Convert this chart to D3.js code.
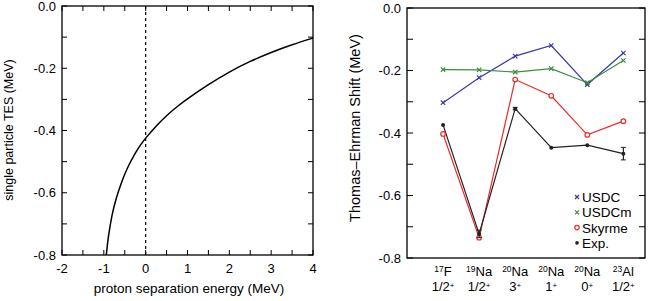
<!DOCTYPE html>
<html lang="en">
<head>
    <meta charset="UTF-8" />
    <title>Thomas-Ehrman shift</title>
    <script src="https://d3js.org/d3.v7.min.js"></script>
    <style>
        body { margin: 0; background: #fff; }
        svg { font-family: "Liberation Sans", Arial, sans-serif; }
    </style>
</head>
<body>
<div id="chart"></div>
<script>
    // ---- data: left panel (single particle TES curve) ----
    var sepEnergy = [-0.94, -0.9, -0.8, -0.7, -0.6, -0.5, -0.4, -0.3, -0.2, -0.1, 0, 0.25, 0.5, 0.75, 1, 1.5, 2, 2.5, 3, 3.5, 4];
    var tes = [-0.8, -0.745, -0.665, -0.615, -0.575, -0.54, -0.51, -0.485, -0.462, -0.442, -0.424, -0.385, -0.352, -0.323, -0.298, -0.252, -0.211, -0.177, -0.149, -0.124, -0.103];

    // ---- data: right panel ----
    var massNumbers = ["17", "19", "20", "20", "20", "23"];
    var elements = ["F", "Na", "Na", "Na", "Na", "Al"];
    var spins = ["1/2", "1/2", "3", "1", "0", "1/2"];
    var usdc = [-0.303, -0.223, -0.154, -0.120, -0.245, -0.144];
    var usdcm = [-0.197, -0.198, -0.205, -0.194, -0.239, -0.168];
    var skyrme = [-0.403, -0.735, -0.229, -0.281, -0.406, -0.362];
    var expVal = [-0.374, -0.723, -0.322, -0.447, -0.439, -0.466];
    var expErr = [0, 0.012, 0.004, 0, 0, 0.02];
    var legendNames = ["USDC", "USDCm", "Skyrme", "Exp."];

    var w = 664, h = 301;
    var svg = d3.select("#chart").append("svg")
        .attr("width", w).attr("height", h);

    function frame(x0, x1, y0, y1) {
        svg.append("rect")
            .attr("x", x0).attr("y", y0)
            .attr("width", x1 - x0).attr("height", y1 - y0)
            .attr("fill", "none").attr("stroke", "#000").attr("stroke-width", 1.3);
    }

    // inward ticks on both sides of a y scale, labels on the left
    function yTicks(y, xl, xr, len) {
        d3.range(-0.8, 0.001, 0.1).forEach(function(v) {
            svg.append("line").attr("x1", xl).attr("x2", xl + len)
                .attr("y1", y(v)).attr("y2", y(v)).attr("stroke", "#000");
            svg.append("line").attr("x1", xr).attr("x2", xr - len)
                .attr("y1", y(v)).attr("y2", y(v)).attr("stroke", "#000");
        });
        [0, -0.2, -0.4, -0.6, -0.8].forEach(function(v) {
            svg.append("text").attr("x", xl - 6).attr("y", y(v) + 4.5)
                .attr("text-anchor", "end").style("font-size", "13px")
                .text(v === 0 ? "0.0" : v.toFixed(1));
        });
    }

    // ================= left panel =================
    var x1 = d3.scaleLinear().domain([-2, 4]).range([62, 313]);
    var y1 = d3.scaleLinear().domain([-0.8, 0]).range([255, 6]);

    yTicks(y1, 62, 313, 5);
    d3.range(-2, 4.01, 0.5).forEach(function(v) {
        svg.append("line").attr("x1", x1(v)).attr("x2", x1(v))
            .attr("y1", 255).attr("y2", 250).attr("stroke", "#000");
        svg.append("line").attr("x1", x1(v)).attr("x2", x1(v))
            .attr("y1", 6).attr("y2", 11).attr("stroke", "#000");
    });
    d3.range(-2, 4.01, 1).forEach(function(v) {
        svg.append("text").attr("x", x1(v)).attr("y", 273)
            .attr("text-anchor", "middle").style("font-size", "13px").text(v);
    });

    // dashed line at zero separation energy
    svg.append("line").attr("x1", x1(0)).attr("x2", x1(0))
        .attr("y1", y1(0)).attr("y2", y1(-0.8))
        .attr("stroke", "#000").attr("stroke-width", 1.2)
        .attr("stroke-dasharray", "3,3");

    var curve = d3.line().curve(d3.curveBasis)
        .x(function(d, i) { return x1(sepEnergy[i]); })
        .y(function(d) { return y1(d); });
    svg.append("path").datum(tes).attr("d", curve)
        .attr("fill", "none").attr("stroke", "#000").attr("stroke-width", 1.5);

    frame(62, 313, 6, 255);

    svg.append("text").attr("x", 189).attr("y", 293).attr("text-anchor", "middle")
        .style("font-size", "13.5px").text("proton separation energy (MeV)");
    svg.append("text").attr("transform", "translate(13,130) rotate(-90)")
        .attr("text-anchor", "middle").style("font-size", "12.5px")
        .text("single particle TES (MeV)");

    // ================= right panel =================
    var x2 = d3.scaleLinear().domain([0, 6.6]).range([407, 645]);
    var y2 = d3.scaleLinear().domain([-0.8, 0]).range([258, 8]);

    yTicks(y2, 407, 645, 6);

    function series(vals, color) {
        var line = d3.line()
            .x(function(d, i) { return x2(i + 1); })
            .y(function(d) { return y2(d); });
        svg.append("path").datum(vals).attr("d", line)
            .attr("fill", "none").attr("stroke", color).attr("stroke-width", 1.2);
    }
    function cross(cx, cy, s, color) {
        svg.append("path")
            .attr("d", "M" + (cx - s) + "," + (cy - s) + "L" + (cx + s) + "," + (cy + s) +
                       "M" + (cx - s) + "," + (cy + s) + "L" + (cx + s) + "," + (cy - s))
            .attr("stroke", color).attr("stroke-width", 1.2);
    }

    var blue = "#3a3aa8", green = "#3a8c3a", red = "#ee2a2a", black = "#222";

    series(usdc, blue);
    series(usdcm, green);
    series(skyrme, red);
    series(expVal, black);
    usdc.forEach(function(v, i) { cross(x2(i + 1), y2(v), 2.2, blue); });
    usdcm.forEach(function(v, i) { cross(x2(i + 1), y2(v), 2.2, green); });
    skyrme.forEach(function(v, i) {
        svg.append("circle").attr("cx", x2(i + 1)).attr("cy", y2(v)).attr("r", 2.3)
            .attr("fill", "#fff").attr("stroke", red).attr("stroke-width", 1.2);
    });
    expVal.forEach(function(v, i) {
        var cx = x2(i + 1);
        if (expErr[i] > 0) {
            svg.append("line").attr("x1", cx).attr("x2", cx)
                .attr("y1", y2(v - expErr[i])).attr("y2", y2(v + expErr[i]))
                .attr("stroke", black).attr("stroke-width", 1.2);
            [v - expErr[i], v + expErr[i]].forEach(function(e) {
                svg.append("line").attr("x1", cx - 2.5).attr("x2", cx + 2.5)
                    .attr("y1", y2(e)).attr("y2", y2(e)).attr("stroke", black);
            });
        }
        svg.append("circle").attr("cx", cx).attr("cy", y2(v)).attr("r", 2)
            .attr("fill", black);
    });

    frame(407, 645, 8, 258);

    // category labels: nucleus on the first row, J^pi on the second
    massNumbers.forEach(function(a, i) {
        var cx = x2(i + 1);
        var t = svg.append("text").attr("x", cx).attr("y", 276)
            .attr("text-anchor", "middle").style("font-size", "13px");
        t.append("tspan").style("font-size", "8.5px").attr("dy", -4.5).text(a);
        t.append("tspan").attr("dy", 4.5).text(elements[i]);
        var s = svg.append("text").attr("x", cx).attr("y", 291)
            .attr("text-anchor", "middle").style("font-size", "13px");
        s.append("tspan").text(spins[i]);
        s.append("tspan").style("font-size", "8px").attr("dy", -3.5).text("+");
    });

    svg.append("text").attr("transform", "translate(360,128) rotate(-90)")
        .attr("text-anchor", "middle").style("font-size", "14.5px")
        .text("Thomas\u2013Ehrman Shift (MeV)");

    // legend
    var legendColors = [blue, green, red, black];
    legendNames.forEach(function(name, i) {
        var ly = 197 + i * 15.3, lx = 577;
        if (i < 2) {
            cross(lx, ly, 2, legendColors[i]);
        } else if (i === 2) {
            svg.append("circle").attr("cx", lx).attr("cy", ly).attr("r", 2.2)
                .attr("fill", "#fff").attr("stroke", red).attr("stroke-width", 1.2);
        } else {
            svg.append("circle").attr("cx", lx).attr("cy", ly).attr("r", 1.8).attr("fill", black);
        }
        svg.append("text").attr("x", lx + 5).attr("y", ly + 5)
            .style("font-size", "13.5px").text(name);
    });
</script>
</body>
</html>
